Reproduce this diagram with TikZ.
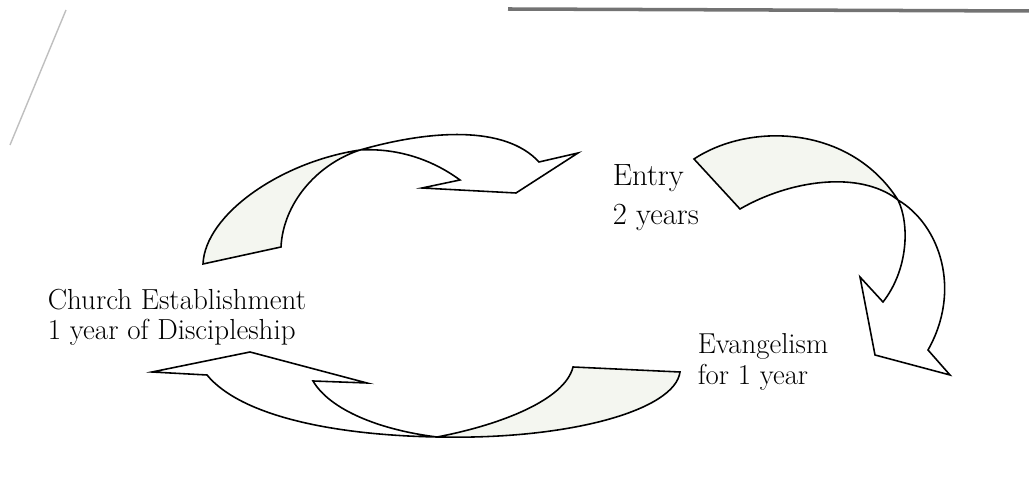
\documentclass[tikz,border=0pt]{standalone}
\usepackage{tikz}
\usetikzlibrary{calc}
\definecolor{ribbonback}{RGB}{244,246,240}
\newcommand{\CycleLabelSize}[5]{
  \node [cyclelabel, font={\fontsize{#4}{#5}\selectfont}] (#1) at #2 {#3};
}

\begin{document}
\begin{tikzpicture}[x=0.02cm, y=-0.02cm, line width=0.9pt, line join=miter,
  cyclelabel/.style={anchor=north west, inner sep=0pt, align=left}]
\useasboundingbox (0,0) rectangle (1029,492);

% edges of the scanned page
\draw [line width=2pt, black!55] (508,9) -- (1029,11);
\draw [line width=0.8pt, black!25] (66,10) -- (10,145);

% upper left arrow
\coordinate (x1) at (360,150);
\coordinate (t1a) at (203,264);
\coordinate (t1b) at (281,247);
\fill [ribbonback] (t1a) .. controls (205,215) and (280,162) .. (x1)
  .. controls (315,165) and (283,205) .. (t1b) -- cycle;
\draw (t1a) .. controls (205,215) and (280,162) .. (x1)
  .. controls (430,130) and (505,125) .. (539,162) -- (578,153) -- (516,193)
  -- (422,188) -- (460,180) .. controls (430,158) and (395,148) .. (x1)
  .. controls (315,165) and (283,205) .. (t1b) -- cycle;

% right arrow
\coordinate (x2) at (898,200);
\coordinate (t2a) at (694,159);
\coordinate (t2b) at (740,209);
\fill [ribbonback] (t2a) .. controls (750,122) and (850,125) .. (x2)
  .. controls (860,170) and (790,180) .. (t2b) -- cycle;
\draw (t2a) .. controls (750,122) and (850,125) .. (x2)
  .. controls (940,225) and (962,290) .. (928,350) -- (950,375) -- (875,355)
  -- (860,277) -- (883,302) .. controls (908,270) and (910,225) .. (x2)
  .. controls (860,170) and (790,180) .. (t2b) -- cycle;

% lower arrow
\coordinate (x3) at (437,437);
\coordinate (t3a) at (573,367);
\coordinate (t3b) at (680,372);
\fill [ribbonback] (t3a) .. controls (565,400) and (500,425) .. (x3)
  .. controls (570,440) and (675,410) .. (t3b) -- cycle;
\draw (t3b) .. controls (675,410) and (570,440) .. (x3)
  .. controls (330,435) and (240,415) .. (207,375) -- (152,372) -- (250,352)
  -- (367,383) -- (313,381) .. controls (330,410) and (380,430) .. (x3)
  .. controls (500,425) and (565,400) .. (t3a) -- cycle;

\CycleLabelSize{entry}{(612,164)}{Entry\\2 years}{17.5pt}{22pt}
\CycleLabelSize{church}{(47,288)}{Church Establishment\\1 year of Discipleship}{16.5pt}{17.5pt}
\CycleLabelSize{evangelism}{(697,333)}{Evangelism\\for 1 year}{16.4pt}{17.5pt}

\end{tikzpicture}
\end{document}
